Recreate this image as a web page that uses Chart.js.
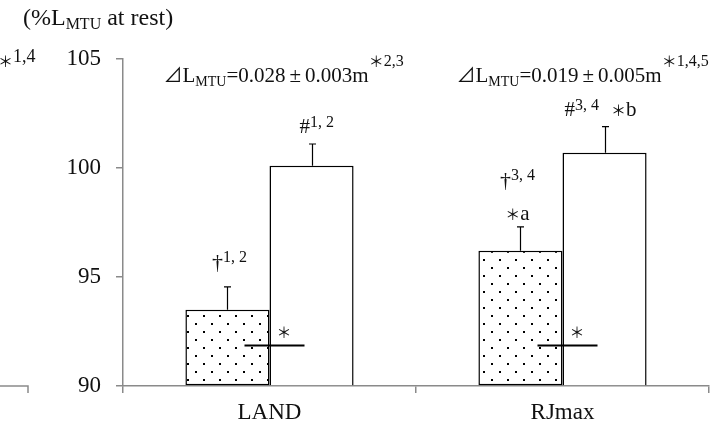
<!DOCTYPE html>
<html>
<head>
<meta charset="utf-8">
<script src="https://cdn.jsdelivr.net/npm/chart.js@4.4.1/dist/chart.umd.min.js"></script>
<style>
  html, body { margin: 0; padding: 0; background: #fff; }
  #c { display: block; }
</style>
</head>
<body>
<canvas id="c" width="722" height="431"></canvas>
<script>
// Group means (% of resting MTU length) and their SDs
const categories = ['LAND', 'RJmax'];
const dottedMeans = [93.5, 96.2];
const dottedSD = [1.05, 1.1];
const openMeans = [100.1, 100.7];
const openSD = [1.0, 1.2];
const yTicks = [90, 95, 100, 105];
const yMin = 90;
const yMax = 105;

// Text printed above each category
const deltaValues = ['0.028', '0.019'];
const deltaSDs = ['0.003', '0.005'];
const deltaMarks = ['2,3', '1,4,5'];
const dottedMarks = ['1, 2', '3, 4'];
const dottedLetters = ['', 'a'];
const openMarks = ['1, 2', '3, 4'];
const openLetters = ['', 'b'];
const pairLineValue = 91.9;

const SERIF = "'Liberation Serif', 'Times New Roman', serif";
const CJK = "'Noto Sans CJK JP', 'DejaVu Sans', sans-serif";
const INK = '#111';
const AXIS = '#8a8a8a';

// Stippled fill for the first series
function makeDots() {
  const t = document.createElement('canvas');
  t.width = 16; t.height = 16;
  const g = t.getContext('2d');
  g.fillStyle = '#fff';
  g.fillRect(0, 0, 16, 16);
  g.fillStyle = '#000';
  g.fillRect(3, 3, 2, 2);
  g.fillRect(11, 11, 2, 2);
  return document.getElementById('c').getContext('2d').createPattern(t, 'repeat');
}

// Draw a run of text pieces (sizes, baseline shifts, fonts) left to right
function runWidth(ctx, parts) {
  let w = 0;
  for (const p of parts) {
    ctx.font = `${p.size}px ${p.family || SERIF}`;
    w += (p.padL || 0) + ctx.measureText(p.t).width + (p.padR || 0);
  }
  return w;
}
function drawRun(ctx, x, y, parts) {
  let cx = x;
  for (const p of parts) {
    ctx.font = `${p.size}px ${p.family || SERIF}`;
    cx += p.padL || 0;
    ctx.fillText(p.t, cx, y + (p.dy || 0));
    cx += ctx.measureText(p.t).width + (p.padR || 0);
  }
  return cx - x;
}
const star = (dy) => ({ t: '\uFF0A', size: 15, family: CJK, dy: dy || 0 });

const annotations = {
  id: 'annotations',
  afterDatasetsDraw(chart) {
    const { ctx, scales: { x, y } } = chart;
    const mDot = chart.getDatasetMeta(0);
    const mOpen = chart.getDatasetMeta(1);
    ctx.save();

    // error whiskers (upper side only)
    ctx.strokeStyle = '#000';
    ctx.lineWidth = 1.2;
    [[mDot, dottedMeans, dottedSD], [mOpen, openMeans, openSD]].forEach(([m, means, sds]) => {
      m.data.forEach((el, i) => {
        const top = y.getPixelForValue(means[i] + sds[i]);
        const cx = Math.round(el.x) + 0.5;
        ctx.beginPath();
        ctx.moveTo(cx, el.y);
        ctx.lineTo(cx, top);
        ctx.moveTo(cx - 3.5, top);
        ctx.lineTo(cx + 3.5, top);
        ctx.stroke();
      });
    });

    ctx.fillStyle = INK;
    ctx.textBaseline = 'alphabetic';
    ctx.textAlign = 'left';

    categories.forEach((c, i) => {
      const dotEl = mDot.data[i];
      const openEl = mOpen.data[i];
      const edge = dotEl.x + dotEl.width / 2;

      // paired-comparison line with its star
      const ly = Math.round(y.getPixelForValue(pairLineValue)) + 0.5;
      ctx.strokeStyle = '#000';
      ctx.lineWidth = 2;
      ctx.beginPath();
      ctx.moveTo(edge - 25, ly);
      ctx.lineTo(edge + 35, ly);
      ctx.stroke();
      drawRun(ctx, edge + 7, ly - 8, [star()]);

      // marks above the stippled bar
      const dTop = y.getPixelForValue(dottedMeans[i] + dottedSD[i]);
      let base = dTop - 7;
      if (dottedLetters[i]) {
        const parts = [star(), { t: dottedLetters[i], size: 21 }];
        drawRun(ctx, dotEl.x - 3 - runWidth(ctx, parts) / 2, base, parts);
        base -= 33;
      } else {
        base = dTop - 18;
      }
      const dag = [{ t: '\u2020', size: 22 }, { t: dottedMarks[i], size: 16, dy: -7 }];
      drawRun(ctx, dotEl.x + (dottedLetters[i] ? -3 : 2) - runWidth(ctx, dag) / 2, base, dag);

      // marks above the open bar
      const oTop = y.getPixelForValue(openMeans[i] + openSD[i]);
      const hash = [{ t: '#', size: 21 }, { t: openMarks[i], size: 16, dy: -6 }];
      let hx;
      if (openLetters[i]) {
        hash.push(star(), { t: openLetters[i], size: 21 });
        hash[2].padL = 12;
        hx = openEl.x - 4 - runWidth(ctx, hash) / 2;
      } else {
        hx = openEl.x - 12;
      }
      drawRun(ctx, hx, oTop - 11, hash);

      // length-change label at the top of each category
      const dl = [
        { t: '\u22BF', size: 19, family: CJK },
        { t: 'L', size: 21 },
        { t: 'MTU', size: 14, dy: 4 },
        { t: '=' + deltaValues[i], size: 21 },
        { t: '\u00B1', size: 21, padL: 4, padR: 4 },
        { t: deltaSDs[i] + 'm', size: 21 },
        star(-15),
        { t: deltaMarks[i], size: 16, dy: -16 }
      ];
      drawRun(ctx, x.getPixelForValue(i) - 106, y.getPixelForValue(103.95), dl);
    });

    ctx.restore();
  },
  afterDraw(chart) {
    const { ctx } = chart;
    ctx.save();
    ctx.fillStyle = INK;
    // unit caption above the value axis
    drawRun(ctx, 23, 25, [
      { t: '(%L', size: 24 },
      { t: 'MTU', size: 16, dy: 4 },
      { t: ' at rest)', size: 24 }
    ]);
    // edge of the neighbouring panel
    drawRun(ctx, -2, 67, [star(), { t: '1,4', size: 18, dy: -5 }]);
    const bottom = chart.chartArea.bottom;
    ctx.strokeStyle = AXIS;
    ctx.lineWidth = 1.5;
    ctx.beginPath();
    ctx.moveTo(0, bottom);
    ctx.lineTo(28, bottom);
    ctx.lineTo(28, bottom + 7);
    ctx.stroke();
    ctx.restore();
  }
};

const ctx = document.getElementById('c').getContext('2d');
new Chart(ctx, {
  type: 'bar',
  data: {
    labels: categories,
    datasets: [
      {
        label: 'stippled',
        data: dottedMeans,
        base: yMin,
        backgroundColor: makeDots(),
        borderColor: '#000',
        borderWidth: 1.5,
        borderSkipped: false
      },
      {
        label: 'open',
        data: openMeans,
        base: yMin,
        backgroundColor: '#fff',
        borderColor: '#000',
        borderWidth: 1.5
      }
    ]
  },
  options: {
    responsive: false,
    animation: false,
    events: [],
    layout: { padding: { top: 59, right: 13, left: 0, bottom: 0 } },
    plugins: { legend: { display: false }, tooltip: { enabled: false } },
    datasets: { bar: { categoryPercentage: 0.574, barPercentage: 1 } },
    scales: {
      x: {
        grid: { drawOnChartArea: false, tickLength: 7, color: AXIS, lineWidth: 1.5 },
        border: { color: AXIS, width: 1.5 },
        ticks: { font: { family: SERIF, size: 23 }, color: INK, padding: 6 },
        afterFit(s) { s.height = 45; }
      },
      y: {
        min: yMin,
        max: yMax,
        afterBuildTicks(s) { s.ticks = yTicks.map(v => ({ value: v })); },
        grid: { drawOnChartArea: false, tickLength: 7, color: AXIS, lineWidth: 1.5 },
        border: { color: AXIS, width: 1.5 },
        ticks: { font: { family: SERIF, size: 23 }, color: INK, padding: 15 },
        afterFit(s) { s.width = 123; }
      }
    }
  },
  plugins: [annotations]
});
</script>
</body>
</html>
